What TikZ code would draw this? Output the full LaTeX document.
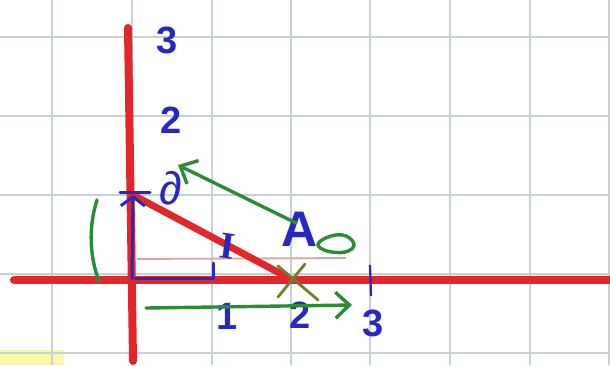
\documentclass[tikz,border=0pt]{standalone}
\usepackage{fontspec}
\setmainfont{Liberation Sans}
\newfontfamily\serifI{Liberation Serif}
\usetikzlibrary{arrows.meta}
\definecolor{gridc}{RGB}{196,210,216}
\definecolor{axred}{RGB}{226,38,44}
\definecolor{pen}{RGB}{38,40,196}
\definecolor{grn}{RGB}{42,140,52}
\definecolor{olivex}{RGB}{120,122,44}
\definecolor{salmon}{RGB}{214,168,152}
\definecolor{hl}{RGB}{250,248,165}
\tikzset{
  gridline/.style={gridc, line width=1.8pt},
  redaxis/.style={axred, line width=8pt, line cap=round},
  redline/.style={axred, line width=7pt, line cap=round},
  bluepen/.style={pen, line width=3pt, line cap=round, line join=round},
  greenpen/.style={grn, line width=3.4pt, line cap=round, line join=round},
  lbl/.style={pen, inner sep=0pt, font=\bfseries\fontsize{38}{38}\selectfont},
  barb/.style={-{Straight Barb[length=14pt,width=26pt]}}
}
\begin{document}
\begin{tikzpicture}[x=1pt,y=-1pt]
\fill[white] (0,0) rectangle (610,365);
\useasboundingbox (0,0) rectangle (610,365);
\fill[hl] (0,350) rectangle (64,365);
% grid
\foreach \gx in {52,132,212,291,370,450,530,609}
  \draw[gridline] (\gx,0) -- (\gx,365);
\foreach \gy in {37,116,195,274,353}
  \draw[gridline] (0,\gy) -- (610,\gy);
% coordinates
\coordinate (vtop) at (128,28);
\coordinate (vbot) at (133,361);
\coordinate (hleft) at (14,280);
\coordinate (hright) at (612,280);
\coordinate (P) at (133,195);
\coordinate (Q) at (287,277);
\coordinate (O) at (132,279);
\coordinate (R) at (213,278);
\coordinate (Rt) at (213,263);
\coordinate (sL) at (137,259);
\coordinate (sR) at (346,258);
% faint line
\draw[salmon, line width=1.8pt] (sL) -- (sR);
% red axes and hypotenuse
\draw[redaxis] (vtop) -- (vbot);
\draw[redaxis] (hleft) -- (hright);
\draw[redline] (P) -- (Q);
% blue
\draw[bluepen, -{Straight Barb[length=9pt,width=24pt]}] (O) -- (P);
\coordinate (b1) at (120,192);
\coordinate (b2) at (150,192);
\draw[bluepen] (b1) -- (b2);
\draw[bluepen] (135,278) -- (R) -- (Rt);
\coordinate (t1) at (370,265);
\coordinate (t2) at (371,296);
\draw[pen, line width=2.2pt] (t1) -- (t2);
% labels
\node[lbl] (y3) at (167,40) {3};
\node[lbl] (y2) at (171,120) {2};
\node[lbl, font=\fontsize{46}{46}\selectfont] (yd) at (171,188) {∂};
\node[lbl] (x1) at (227,316) {1};
\node[lbl] (x2) at (300,315) {2};
\node[lbl] (x3) at (373,323) {3};
\node[lbl, font=\bfseries\fontsize{50}{50}\selectfont] (A) at (300,229) {A};
\node[lbl, font=\serifI\bfseries\fontsize{38}{38}\selectfont, rotate=-8] (I) at (228,246) {I};
% green
\coordinate (g1) at (296,223);
\coordinate (g2) at (178,165);
\draw[greenpen, barb] (g1) -- (g2);
\draw[greenpen] plot[smooth cycle, tension=0.7] coordinates {(318,244) (331,236) (346,236) (354,245) (345,252) (327,251)};
\coordinate (h1) at (146,308);
\coordinate (h2) at (352,305);
\draw[greenpen, barb] (h1) -- (h2);
\coordinate (a1) at (97,200);
\coordinate (a2) at (99,281);
\draw[greenpen] (a1) .. controls (88,228) and (90,258) .. (a2);
% X mark
\coordinate (x11) at (278,266);
\coordinate (x12) at (318,300);
\coordinate (x21) at (305,264);
\coordinate (x22) at (278,297);
\draw[olivex, line width=2.8pt, line cap=round] (x11) -- (x12);
\draw[olivex, line width=2.8pt, line cap=round] (x21) -- (x22);
\end{tikzpicture}
\end{document}
